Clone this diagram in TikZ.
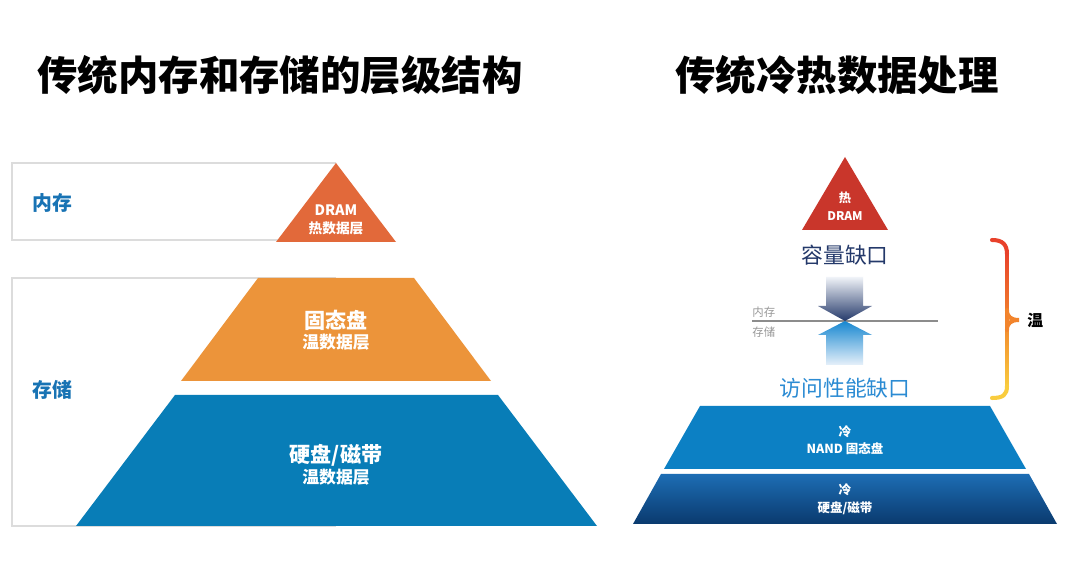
\documentclass[tikz,border=0pt]{standalone}
\usepackage{fontspec}
\setmainfont{Noto Sans CJK SC}
\usetikzlibrary{positioning}

\definecolor{dramOrange}{HTML}{E2693A}
\definecolor{ssdOrange}{HTML}{EC943A}
\definecolor{hddBlue}{HTML}{087DB7}
\definecolor{tierBlue}{HTML}{1873B4}
\definecolor{boxGray}{HTML}{DCDCDC}
\definecolor{hotRed}{HTML}{C9362B}
\definecolor{coldBlue}{HTML}{0C80C4}
\definecolor{deepTop}{HTML}{1D6DB4}
\definecolor{deepBot}{HTML}{0A3A6E}
\definecolor{gapNavy}{HTML}{24396A}
\definecolor{gapBlue}{HTML}{2B8BD3}
\definecolor{arrowPale}{HTML}{F0F3F8}
\definecolor{upBlue}{HTML}{1787D0}
\definecolor{upPale}{HTML}{E6F0FA}
\definecolor{braceRed}{HTML}{E8412B}
\definecolor{braceOrange}{HTML}{F2842C}
\definecolor{braceYellow}{HTML}{F9CC3E}

\begin{document}
\begin{tikzpicture}[
    x=0.02cm, y=-0.02cm, every node/.style={inner sep=0pt},
    titleText/.style={font=\bfseries\fontsize{23}{26}\selectfont, text=black},
    tierLabel/.style={font=\bfseries\fontsize{11.3}{13}\selectfont, text=tierBlue, anchor=west},
    tierBox/.style={draw=boxGray, line width=1pt},
    whiteText/.style={text=white, font=\bfseries\fontsize{#1}{#1}\selectfont},
    gapText/.style={font=\fontsize{12.4}{14}\selectfont},
    splitText/.style={font=\fontsize{6.5}{7}\selectfont, text=black!40, anchor=west},
    braceLine/.style={line width=2.3pt, line cap=round}
]
    \useasboundingbox[fill=white] (0,0) rectangle (1080,567);

    % left: memory / storage hierarchy
    \node[titleText] (leftTitle) at (280,75) {传统内存和存储的层级结构};
    \draw[tierBox] (336,163) -- (12,163) -- (12,240) -- (336,240);
    \draw[tierBox] (336,278) -- (12,278) -- (12,526) -- (336,526);
    \node[tierLabel] (memLabel) at (32,203) {内存};
    \node[tierLabel] (stoLabel) at (32,390) {存储};

    \fill[dramOrange] (336,163) -- (396,242) -- (276,242) -- cycle;
    \fill[ssdOrange] (258,278) -- (414,278) -- (491,381) -- (181,381) -- cycle;
    \fill[hddBlue] (175,395) -- (498,395) -- (597,526) -- (76,526) -- cycle;

    \node[whiteText=8.2] (dramName) at (336,210) {DRAM};
    \node[whiteText=7.8] (dramTier) at (336,228) {热数据层};
    \node[whiteText=12] (ssdName) at (336,320) {固态盘};
    \node[whiteText=9.6] (ssdTier) at (336,342) {温数据层};
    \node[whiteText=12] (hddName) at (336,455) {硬盘/磁带};
    \node[whiteText=9.6] (hddTier) at (336,477) {温数据层};

    % right: hot / warm / cold data
    \node[titleText] (rightTitle) at (837,75) {传统冷热数据处理};
    \fill[hotRed] (845,157) -- (888,230) -- (802,230) -- cycle;
    \node[whiteText=7] (hotMark) at (845,198) {热};
    \node[whiteText=6.8] (hotName) at (845,216) {DRAM};

    \node[gapText, text=gapNavy] (capGap) at (845,255) {容量缺口};
    \draw[black!45, line width=0.7pt] (752,321) -- (938,321);
    \node[splitText] (memSide) at (752,312) {内存};
    \node[splitText] (stoSide) at (752,332) {存储};
    \shade[top color=arrowPale, bottom color=gapNavy]
        (826,277) -- (863,277) -- (863,306) -- (872,306) -- (845,321) -- (818,306) -- (826,306) -- cycle;
    \shade[top color=upBlue, bottom color=upPale]
        (845,321) -- (872,335) -- (863,335) -- (863,365) -- (826,365) -- (826,335) -- (818,335) -- cycle;
    \node[gapText, text=gapBlue] (accGap) at (845,388) {访问性能缺口};

    % warm brace
    \shade[top color=braceRed, bottom color=braceYellow, middle color=braceOrange]
        (1005.5,252) rectangle (1008.5,388);
    \draw[braceLine, braceRed] (992,240) .. controls (1003,240) and (1007,245) .. (1007,254);
    \draw[braceLine, braceOrange] (1007,310) .. controls (1007,317) and (1011,320) .. (1019,320)
        .. controls (1011,320) and (1007,323) .. (1007,330);
    \draw[braceLine, braceYellow] (1007,386) .. controls (1007,395) and (1003,398) .. (992,398);
    \node[font=\bfseries\fontsize{9}{10}\selectfont, anchor=west] (warmMark) at (1027,320) {温};

    \fill[coldBlue] (700,406) -- (990,406) -- (1026,469) -- (664,469) -- cycle;
    \shade[top color=deepTop, bottom color=deepBot]
        (661,474) -- (1029,474) -- (1057,524) -- (633,524) -- cycle;
    \node[whiteText=7.2] (coldA) at (845,432) {冷};
    \node[whiteText=7.1] (nandName) at (845,449) {NAND 固态盘};
    \node[whiteText=7.2] (coldB) at (845,490) {冷};
    \node[whiteText=7.1] (tapeName) at (845,508) {硬盘/磁带};
\end{tikzpicture}
\end{document}
